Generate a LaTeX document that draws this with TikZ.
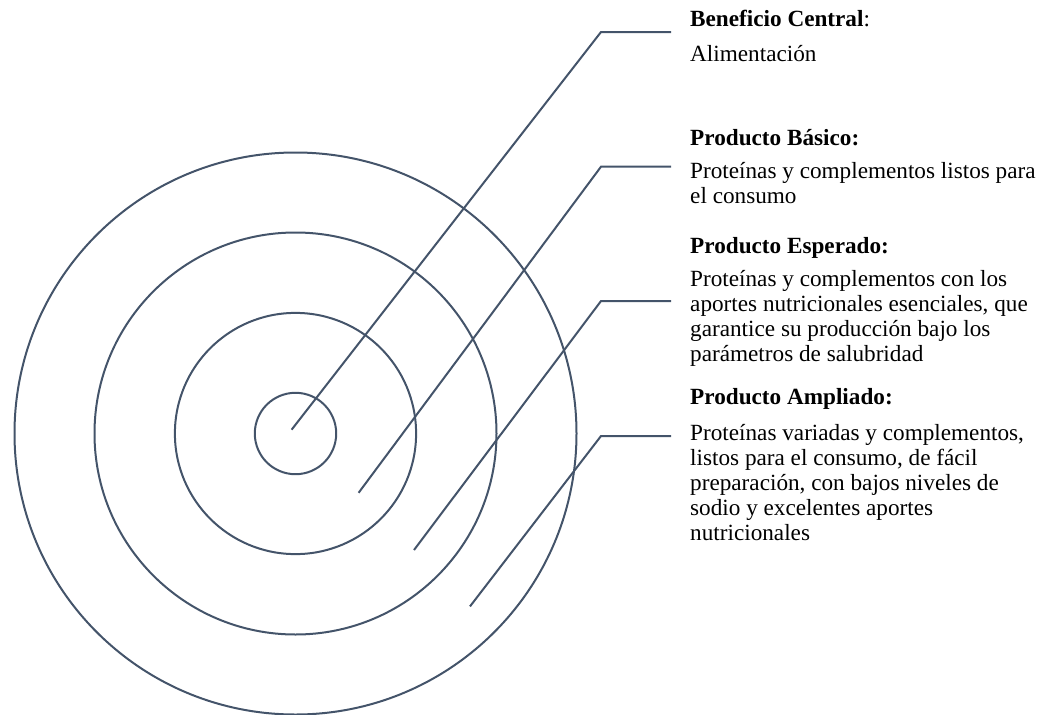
\documentclass[tikz,border=0pt]{standalone}
\usepackage{fontspec}
\setmainfont{Liberation Serif}
\definecolor{lineblue}{HTML}{44546A}
\begin{document}
\begin{tikzpicture}[x=1pt,y=-1pt,
  ring/.style={draw=lineblue,line width=2pt},
  leader/.style={draw=lineblue,line width=2pt,line join=miter},
  head/.style={anchor=base west,inner sep=0pt,font=\fontsize{23.2}{25}\selectfont\bfseries},
  body/.style={anchor=base west,inner sep=0pt,font=\fontsize{23.2}{25}\selectfont}]
\useasboundingbox (0,0) rectangle (1058,715);
\coordinate (c) at (295.5,433.5);
\draw[ring] (c) circle[radius=40.7pt];
\draw[ring] (c) circle[radius=120.6pt];
\draw[ring] (c) circle[radius=201pt];
\draw[ring] (c) circle[radius=281pt];
% leaders
\coordinate (a1) at (291.6,429.7); \coordinate (b1) at (601,32);    \coordinate (e1) at (671,32);
\coordinate (a2) at (358.6,492.8); \coordinate (b2) at (601,166.7); \coordinate (e2) at (671,166.7);
\coordinate (a3) at (414,550);     \coordinate (b3) at (601,301);   \coordinate (e3) at (671,301);
\coordinate (a4) at (470,606.4);   \coordinate (b4) at (601,436);   \coordinate (e4) at (671,436);
\draw[leader] (a1) -- (b1) -- (e1);
\draw[leader] (a2) -- (b2) -- (e2);
\draw[leader] (a3) -- (b3) -- (e3);
\draw[leader] (a4) -- (b4) -- (e4);
% texts
\node[head] (h1) at (690,26.7) {Beneficio Central\mdseries:};
\node[body] (t1) at (690,61) {Alimentación};
\node[head] (h2) at (690,145.7) {Producto Básico:};
\node[body] (t2) at (690,178.3) {\parbox[t]{370pt}{\raggedright Proteínas y complementos listos para\\el consumo}};
\node[head] (h3) at (690,253.3) {Producto Esperado:};
\node[body] (t3) at (690,286) {\parbox[t]{370pt}{\raggedright Proteínas y complementos con los\\aportes nutricionales esenciales, que\\garantice su producción bajo los\\parámetros de salubridad}};
\node[head] (h4) at (690,404) {Producto Ampliado:};
\node[body] (t4) at (690,440) {\parbox[t]{370pt}{\raggedright Proteínas variadas y complementos,\\listos para el consumo, de fácil\\preparación, con bajos niveles de\\sodio y excelentes aportes\\nutricionales}};
\end{tikzpicture}
\end{document}
